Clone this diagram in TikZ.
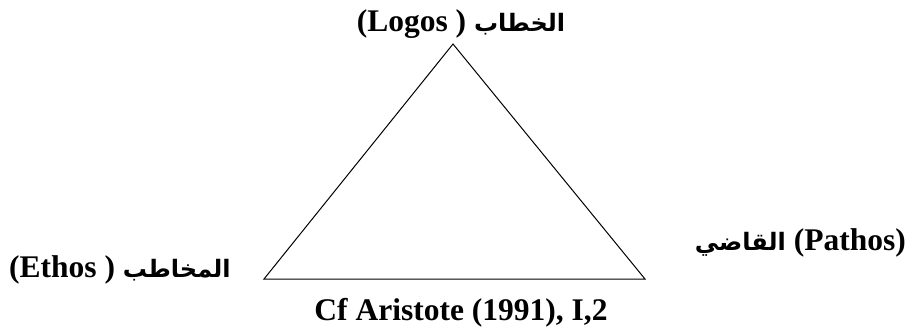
\documentclass[tikz,border=0pt]{standalone}
\usepackage{fontspec}
\setmainfont{Liberation Serif}
\newfontfamily\arabicfont[Script=Arabic]{DejaVu Sans}
\TeXXeTstate=1
\newcommand{\arab}[1]{{\arabicfont\fontsize{24}{28}\selectfont\beginR #1\endR}}
\begin{document}
\begin{tikzpicture}[x=1pt,y=-1pt,
  lbl/.style={font=\fontsize{31.5}{36}\selectfont\bfseries, inner sep=0pt},
  edge/.style={line width=1pt, line join=miter}]
\useasboundingbox (0,0) rectangle (916,333);
\coordinate (apex) at (453,44);
\coordinate (bl) at (264,279);
\coordinate (br) at (645,279);
\draw[edge] (bl) -- (apex) -- (br) -- cycle;
\node[lbl, anchor=base] (logos) at (461,31) {(Logos ) \arab{الخطاب}};
\node[lbl, anchor=base west] (ethos) at (9,277) {(Ethos ) \arab{المخاطب}};
\node[lbl, anchor=base east] (pathos) at (906,250) {\arab{القاضي} (Pathos)};
\node[lbl, anchor=base] (cite) at (461,320) {Cf Aristote (1991), I,2};
\end{tikzpicture}
\end{document}
